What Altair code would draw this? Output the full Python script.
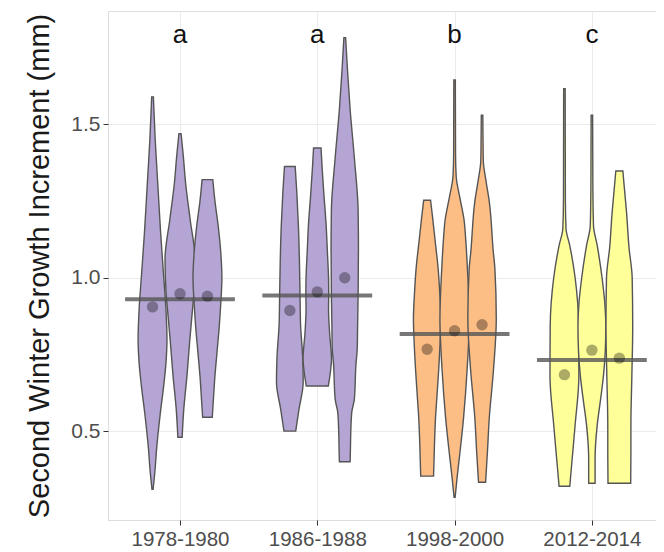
import altair as alt
import pandas as pd

# ---- data ----
periods = ["1978-1980", "1986-1988", "1998-2000", "2012-2014"]
letters = ["a", "a", "b", "c"]
period_colors = ["#b5a5d4", "#b5a5d4", "#fdbe85", "#ffff99"]
period_means = [0.930, 0.942, 0.817, 0.732]
year_means = [
    [0.905, 0.948, 0.940],
    [0.893, 0.954, 1.000],
    [0.767, 0.827, 0.847],
    [0.684, 0.764, 0.738],
]

# violin outlines: value levels and relative density (half-width) at each level
violin_levels = [
    [0.31, 0.36, 0.45, 0.55, 0.65, 0.72, 0.80, 0.90, 1.00, 1.15, 1.30, 1.45, 1.59],
    [0.48, 0.57, 0.68, 0.79, 0.87, 0.95, 1.06, 1.19, 1.30, 1.40, 1.47],
    [0.545, 0.60, 0.68, 0.76, 0.84, 0.92, 1.00, 1.08, 1.17, 1.25, 1.32],
    [0.50, 0.57, 0.66, 0.74, 0.85, 0.95, 1.05, 1.17, 1.28, 1.363],
    [0.647, 0.70, 0.735, 0.82, 0.90, 0.95, 1.0, 1.095, 1.17, 1.28, 1.36, 1.423],
    [0.40, 0.44, 0.48, 0.56, 0.605, 0.72, 0.77, 0.84, 0.95, 1.095, 1.22, 1.39, 1.55, 1.68, 1.783],
    [0.353, 0.45, 0.54, 0.62, 0.70, 0.78, 0.866, 0.95, 1.03, 1.12, 1.20, 1.253],
    [0.284, 0.353, 0.43, 0.54, 0.70, 0.866, 1.03, 1.12, 1.19, 1.26, 1.33, 1.40, 1.645],
    [0.333, 0.43, 0.54, 0.70, 0.866, 1.03, 1.085, 1.25, 1.32, 1.38, 1.45, 1.53],
    [0.32, 0.40, 0.52, 0.68, 0.84, 1.0, 1.105, 1.16, 1.25, 1.40, 1.617],
    [0.33, 0.41, 0.52, 0.60, 0.68, 0.76, 0.84, 0.92, 1.0, 1.105, 1.17, 1.3, 1.53],
    [0.33, 0.42, 0.52, 0.68, 0.84, 1.0, 1.10, 1.215, 1.30, 1.348],
]
violin_density = [
    [0.5, 2, 4, 7, 10.5, 12.5, 13.5, 12.5, 10.5, 7.5, 5, 2.5, 0.8],
    [2, 3.5, 6.5, 9, 11, 13, 14, 9.5, 5.5, 3, 1],
    [4.5, 5.5, 7, 9, 11, 12.5, 13.5, 12.5, 10, 7, 5],
    [5.5, 8.5, 12.5, 12, 10, 9.5, 9, 8, 6.5, 5],
    [10.3, 12.5, 13.3, 11.5, 10.5, 10.7, 10.5, 9.3, 8.3, 6, 4.5, 3.5],
    [5, 5.3, 5.5, 6.5, 9, 10.5, 11.7, 12, 12.5, 12.8, 12.5, 9, 5, 2.5, 0.8],
    [6, 6.8, 7.8, 9.3, 10.8, 12, 12.8, 11.8, 10.3, 7.5, 5, 3.2],
    [0.5, 2.5, 5, 8.3, 11.7, 13.7, 12, 10.5, 8.8, 5, 1.5, 0.9, 0.7],
    [3.3, 5, 6.7, 10.7, 13.3, 12, 10.5, 6.7, 3.5, 1.2, 0.9, 0.7],
    [5, 7, 10, 13.5, 13.3, 10, 5, 1.5, 0.9, 0.8, 0.7],
    [3, 3, 5, 8, 10.8, 12.5, 13, 12, 9.5, 5, 1.5, 0.9, 0.7],
    [10.6, 10.8, 10.8, 11.7, 12.5, 12, 9, 6.7, 4.5, 3.3],
]

# ---- build tables ----
DODGE = 0.2
DENS_SCALE = 1.07 / 137.3

vrows = []
for k, (lv, dn) in enumerate(zip(violin_levels, violin_density)):
    p, j = divmod(k, 3)
    c = p + 1 + (j - 1) * DODGE
    for v, d in zip(lv, dn):
        vrows.append({"violin": k, "period": periods[p], "v": v,
                      "x": c - d * DENS_SCALE, "x2": c + d * DENS_SCALE})
vdf = pd.DataFrame(vrows)

prow = []
for p in range(4):
    for j in range(3):
        prow.append({"period": periods[p], "x": p + 1 + (j - 1) * DODGE, "m": year_means[p][j]})
pdf = pd.DataFrame(prow)

ldf = pd.DataFrame({"period": periods, "pos": [1, 2, 3, 4], "m": period_means,
                    "letter": letters})
ldf["x"] = ldf["pos"] - 0.4
ldf["x2"] = ldf["pos"] + 0.4
ldf["ly"] = 1.765

FONT = "Liberation Sans"
label_expr = "[" + ",".join("'%s'" % s for s in periods) + "][datum.value - 1]"

xscale = alt.Scale(domain=[0.4756, 4.467], nice=False, zero=False)
yscale = alt.Scale(domain=[0.21, 1.87], nice=False, zero=False)

xaxis = alt.Axis(values=[1, 2, 3, 4], labelExpr=label_expr, title=None,
                 grid=True, gridColor="#ebebeb", domain=False, tickColor="#333333",
                 tickSize=5, labelFontSize=20.5, labelColor="#4d4d4d", labelFont=FONT,
                 labelPadding=4)
yaxis = alt.Axis(values=[0.5, 1.0, 1.5], format=".1f",
                 title="Second Winter Growth Increment (mm)",
                 grid=True, gridColor="#ebebeb", domain=False, tickColor="#333333",
                 tickSize=5, labelFontSize=21, labelColor="#4d4d4d", labelFont=FONT,
                 labelPadding=3, titleFontSize=29, titleFont=FONT, titleColor="#1a1a1a",
                 titleFontWeight="normal", titlePadding=16)

violins = alt.Chart(vdf).mark_area(orient="horizontal", stroke="#555555",
                                   strokeWidth=1.4, opacity=1,
                                   interpolate="monotone").encode(
    y=alt.Y("v:Q", scale=yscale, axis=yaxis),
    x=alt.X("x:Q", scale=xscale, axis=xaxis),
    x2="x2:Q",
    detail="violin:N",
    fill=alt.Fill("period:N", scale=alt.Scale(domain=periods, range=period_colors),
                  legend=None),
)

lines = alt.Chart(ldf).mark_rule(color="#555555", strokeWidth=4, opacity=0.8).encode(
    x=alt.X("x:Q", scale=xscale), x2="x2:Q", y=alt.Y("m:Q", scale=yscale))

points = alt.Chart(pdf).mark_circle(size=130, color="#000000", opacity=0.33).encode(
    x=alt.X("x:Q", scale=xscale), y=alt.Y("m:Q", scale=yscale))

texts = alt.Chart(ldf).mark_text(fontSize=26, font=FONT, color="#111111",
                                 baseline="alphabetic").encode(
    x=alt.X("pos:Q", scale=xscale), y=alt.Y("ly:Q", scale=yscale), text="letter:N")

chart = alt.layer(violins, lines, points, texts).properties(
    width=548, height=509,
    autosize=alt.AutoSizeParams(type="none"),
    padding={"left": 100, "top": 3, "right": 0, "bottom": 30},
).configure_view(stroke="#7f7f7f", strokeWidth=1.3).configure(background="white")

chart.save("out.html", embed_options={"renderer": "svg", "actions": False})
